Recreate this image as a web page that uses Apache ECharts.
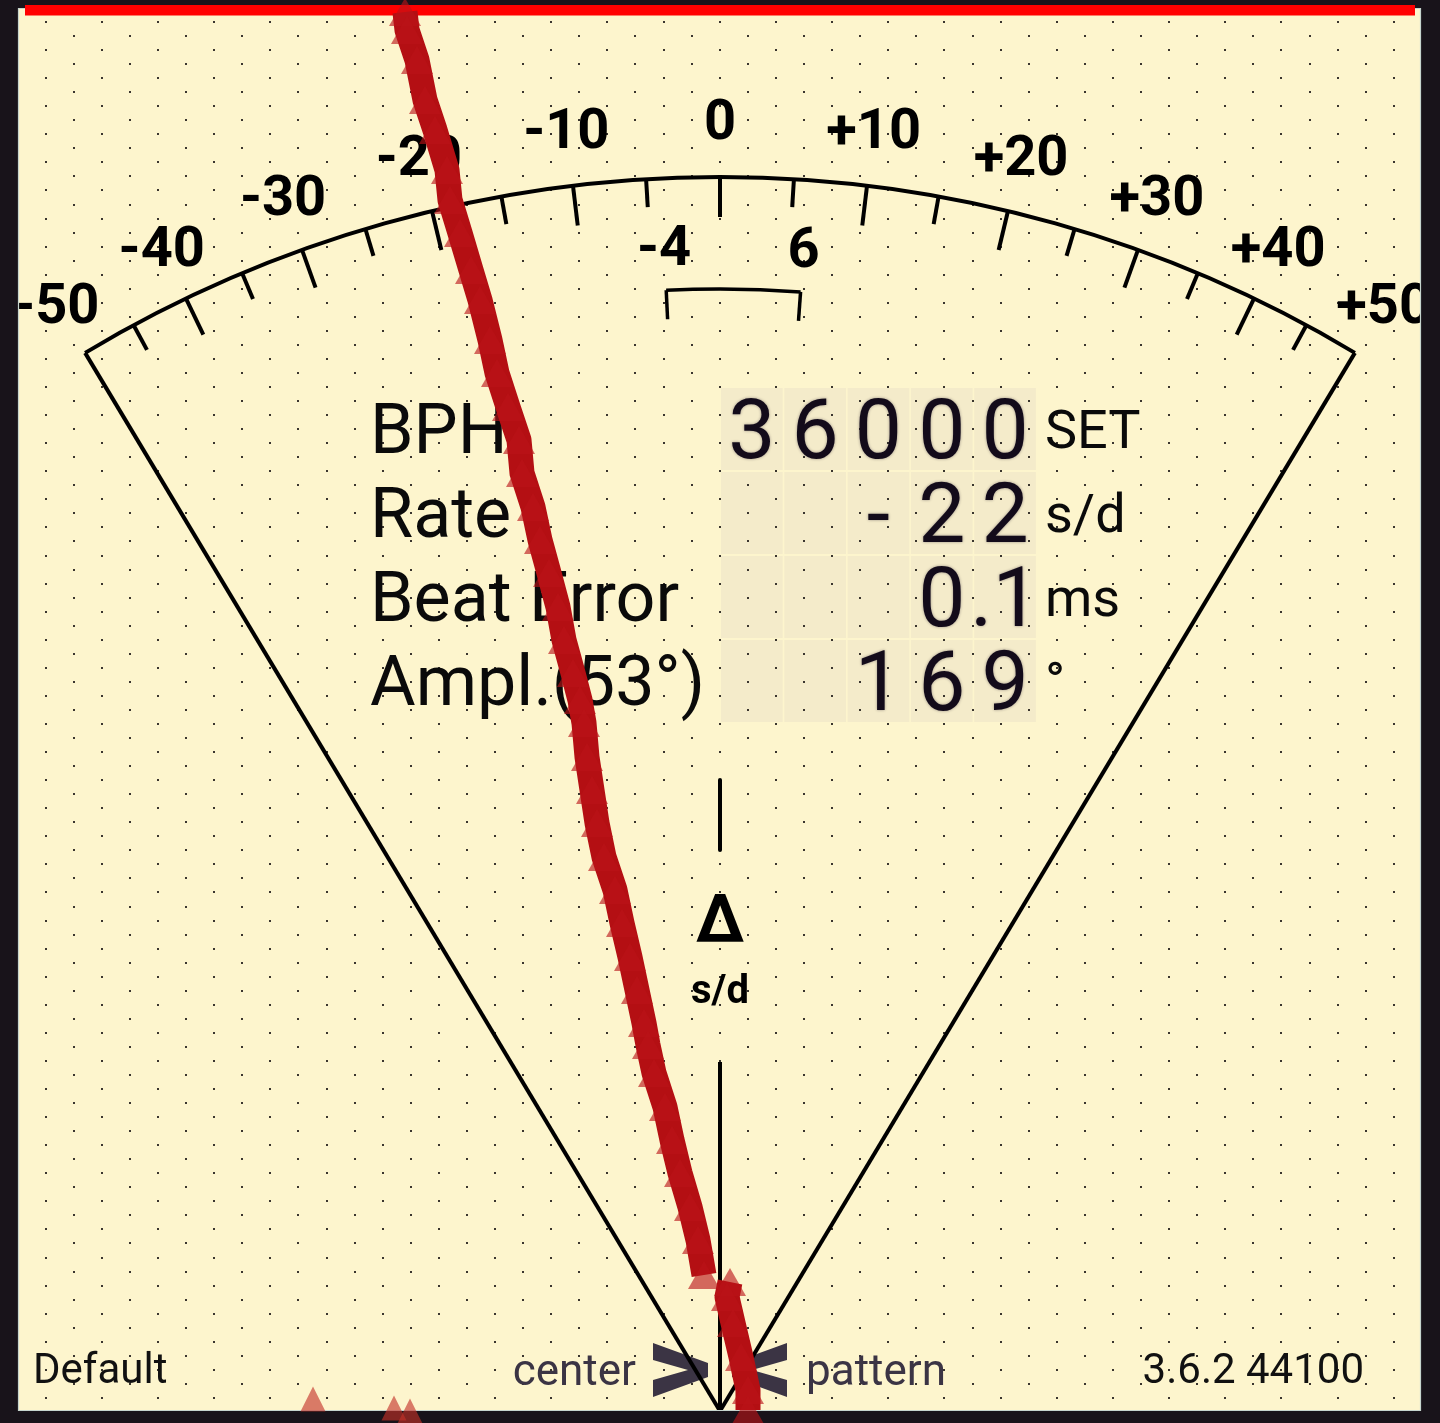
<!DOCTYPE html>
<html><head><meta charset="utf-8">
<script src="https://cdn.jsdelivr.net/npm/echarts@6/dist/echarts.min.js"></script>
<style>html,body{margin:0;padding:0;background:#18131a;overflow:hidden}#c{width:1440px;height:1423px}</style>
</head><body><div id="c"></div>
<script>
// ---------------- data ----------------
const scaleTicks = [-45,-40,-35,-30,-25,-20,-15,-10,-5,0,5,10,15,20,25,30,35,40,45];
const scaleRange = [-50, 50];
const labelValues = [-50,-40,-30,-20,-10,0,10,20,30,40,50];
const tickLabels = ['-50','-40','-30','-20','-10','0','+10','+20','+30','+40','+50'];
const toleranceRange = [-4, 6];
const toleranceLabels = ['-4','6'];
const tableLabels = ['BPH','Rate','Beat Error','Ampl.(53°)'];
const tableValues = ['36000','-22','0.1','169'];
const tableUnits = ['SET','s/d','ms','°'];
const footerLeft = 'Default';
const footerCenterL = 'center';
const footerCenterR = 'pattern';
const footerRight = '3.6.2 44100';
const centerTitle = 'Δ';
const centerUnit = 's/d';
// trail: [offset, time] in chart units
const trailA = [[-31.5,1.2],[-31.3,3.0],[-30.3,6.0],[-29.5,10.0],[-28.5,13.0],[-27.3,17.0],[-27.0,20.0],
 [-26.0,23.3],[-24.9,27.0],[-24.0,30.0],[-23.0,34.0],[-22.3,37.3],[-21.2,40.7],[-20.1,44.0],[-19.8,47.3],
 [-18.7,50.7],[-18.0,54.0],[-17.1,57.3],[-16.2,60.7],[-15.6,64.0],[-14.7,67.3],[-14.0,70.0],[-13.6,72.3],
 [-13.3,75.7],[-12.8,79.0],[-12.3,82.3],[-11.6,85.7],[-10.5,89.0],[-9.8,92.3],[-9.0,95.7],[-8.3,99.0],
 [-7.6,102.3],[-7.2,104.5],[-6.6,107.3],[-5.5,110.7],[-4.8,114.0],[-4.0,117.3],[-3.0,120.7],[-2.2,124.0],[-1.6,127.5]];
const trailB = [[1.0,128.2],[0.7,129.7],[1.3,132.3],[2.1,135.7],[2.8,139.0],[2.8,141.0]];
const strayBeats = [[-40.7,139.9],[-32.6,140.8],[-31.0,141.1]];

// ---------------- layout / style ----------------
const W = 1440, H = 1423;
const PIVOT = [0, 141.1];
const R_ARC = 1234, R_LABEL = 1290, R_BR = 1122, R_TOL = 1165;
const SLOPE = 0.012;
const ang = v => Math.atan(v * SLOPE);
const pol = (c, r, v) => { const t = ang(v); return [c[0] + r * Math.sin(t), c[1] - r * Math.cos(t)]; };

const chart = echarts.init(document.getElementById('c'), null, {renderer: 'canvas', width: W, height: H});

// dot grid
const dots = document.createElement('canvas');
dots.width = W; dots.height = H;
const g = dots.getContext('2d');
g.fillStyle = '#3a352e';
for (let j = -1; j < 110; j++) {
  const y = 22 + j * 14.04;
  if (y < 9 || y > 1410) continue;
  const off = 45.7 + ((j % 2 + 2) % 2 ? 28.085 : 0);
  for (let kx = -1; kx < 30; kx++) {
    const x = off + kx * 56.17;
    if (x < 19 || x > 1420) continue;
    g.fillRect(Math.round(x) - 1, Math.round(y) - 1, 2, 2);
  }
}

const gfx = [];
gfx.push({type: 'rect', shape: {x: 18, y: 8, width: 1403, height: 1403}, style: {fill: '#fdf5cd'}, z: 0});

// table cells
const cellX0 = 721, cellW = 63.3, cellY0 = 388, cellH = 84;
for (let r = 0; r < 4; r++) for (let c = 0; c < 5; c++) {
  gfx.push({type: 'rect', shape: {x: cellX0 + c * cellW, y: cellY0 + r * cellH, width: cellW - 1.6, height: cellH - 2},
    style: {fill: '#f4ebca'}, z: 1});
}
gfx.push({type: 'image', style: {image: dots, x: 0, y: 0, width: W, height: H}, z: 2});

function glyphCells(s) {
  const out = [];
  for (let i = 0; i < s.length; i++) {
    if (s[i] === '.' && i + 1 < s.length) { out.push('.' + s[i + 1]); i++; } else out.push(s[i]);
  }
  return out;
}
const T = (x, y, text, font, fill, align, z, extra) => Object.assign({type: 'text', x, y, z: z || 5,
  style: Object.assign({text, font, fill, align: align || 'left', textAlign: align || 'left', verticalAlign: 'middle', textVerticalAlign: 'middle'}, extra || {})});

tableLabels.forEach((lab, r) => {
  const cy = cellY0 + r * cellH + cellH / 2 + 0.5;
  gfx.push(T(370, cy + 4.5, lab, '70px Roboto', '#0a0a0a'));
  const cells = glyphCells(tableValues[r]);
  cells.forEach((ch, i) => {
    const col = 5 - cells.length + i;
    gfx.push(T(cellX0 + col * cellW + cellW / 2 - 0.8, cy + 6, ch, '84px Roboto', '#130b1a', 'center', 5,
      {textShadowColor: 'rgba(20,10,30,0.4)', textShadowBlur: 3}));
  });
  gfx.push(T(1045, cy + 3.5, tableUnits[r], '54px Roboto', '#0a0a0a'));
});

// footer
gfx.push(T(33, 1372, footerLeft, '42px Roboto', '#111111'));
gfx.push(T(636, 1374, footerCenterL, '44px Roboto', '#3b3444', 'right'));
gfx.push(T(806, 1374, footerCenterR, '44px Roboto', '#3b3444', 'left'));
gfx.push(T(1364, 1372, footerRight, '42px Roboto', '#111111', 'right'));
gfx.push({type: 'polygon', z: 5, shape: {points: [[653,1343],[708,1363],[708,1377],[653,1397],[653,1380],[688,1370],[653,1360]]}, style: {fill: '#3b3444'}});
gfx.push({type: 'polygon', z: 5, shape: {points: [[787,1343],[732,1363],[732,1377],[787,1397],[787,1380],[752,1370],[787,1360]]}, style: {fill: '#3b3444'}});

// frame overlay
const FR = '#18131a';
gfx.push({type: 'rect', shape: {x: 0, y: 0, width: 18, height: H}, style: {fill: FR}, z: 10});
gfx.push({type: 'rect', shape: {x: 1421, y: 0, width: W - 1421, height: H}, style: {fill: FR}, z: 10});
gfx.push({type: 'rect', shape: {x: 0, y: 0, width: W, height: 8}, style: {fill: FR}, z: 10});
gfx.push({type: 'rect', shape: {x: 0, y: 1411, width: W, height: H - 1411}, style: {fill: FR}, z: 10});
gfx.push({type: 'rect', shape: {x: 18.5, y: 8.5, width: 1402, height: 1402}, style: {fill: null, stroke: '#c6d5ce', lineWidth: 1.2}, z: 10});
gfx.push({type: 'rect', shape: {x: 25, y: 5, width: 1390, height: 10.5}, style: {fill: '#ff0000'}, z: 11});

const custom = (name, data, z, fn) => ({type: 'custom', name, coordinateSystem: 'cartesian2d', z, silent: true,
  clip: false, data, renderItem: (params, api) => fn(api, api.coord(PIVOT))});
const ctext = (x, y, t, font) => ({type: 'text', x, y, style: {text: t, font, fill: '#000',
  align: 'center', textAlign: 'center', verticalAlign: 'middle', textVerticalAlign: 'middle'}});

chart.setOption({
  animation: false,
  backgroundColor: FR,
  grid: {left: 0, right: 0, top: 0, bottom: 0},
  xAxis: {type: 'value', min: -72, max: 72, show: false},
  yAxis: {type: 'value', min: 0, max: 142.3, inverse: true, show: false},
  graphic: {elements: gfx},
  series: [
    custom('arc', [[scaleRange[0], scaleRange[1]]], 6, (api, c) => {
      const a0 = ang(api.value(0)), a1 = ang(api.value(1));
      const p0 = pol(c, R_ARC, api.value(0)), p1 = pol(c, R_ARC, api.value(1));
      return {type: 'group', children: [
        {type: 'arc', shape: {cx: c[0], cy: c[1], r: R_ARC, startAngle: -Math.PI / 2 + a0, endAngle: -Math.PI / 2 + a1, clockwise: true},
          style: {stroke: '#000', fill: null, lineWidth: 4}},
        {type: 'line', shape: {x1: c[0], y1: c[1], x2: p0[0], y2: p0[1]}, style: {stroke: '#000', lineWidth: 4}},
        {type: 'line', shape: {x1: c[0], y1: c[1], x2: p1[0], y2: p1[1]}, style: {stroke: '#000', lineWidth: 4}}
      ]};
    }),
    custom('ticks', scaleTicks.map(v => [v, 0]), 6, (api, c) => {
      const v = api.value(0);
      const major = v % 10 === 0;
      const p1 = pol(c, R_ARC, v), p2 = pol(c, R_ARC - (major ? 40 : 28), v);
      return {type: 'line', shape: {x1: p1[0], y1: p1[1], x2: p2[0], y2: p2[1]}, style: {stroke: '#000', lineWidth: 4}};
    }),
    custom('labels', labelValues.map((v, i) => [v, i]), 6, (api, c) => {
      const v = api.value(0), i = api.value(1);
      const p = pol(c, R_LABEL, v);
      return ctext(p[0], p[1] + 4, tickLabels[i], 'bold 56px Roboto');
    }),
    custom('tolerance', [[toleranceRange[0], toleranceRange[1]]], 6, (api, c) => {
      const v0 = api.value(0), v1 = api.value(1);
      const a = pol(c, R_BR, v0), b = pol(c, R_BR, v1), a2 = pol(c, R_BR - 29, v0), b2 = pol(c, R_BR - 29, v1);
      const la = pol(c, R_TOL, v0), lb = pol(c, R_TOL, v1);
      return {type: 'group', children: [
        {type: 'arc', shape: {cx: c[0], cy: c[1], r: R_BR, startAngle: -Math.PI / 2 + ang(v0), endAngle: -Math.PI / 2 + ang(v1), clockwise: true},
          style: {stroke: '#000', fill: null, lineWidth: 3.5}},
        {type: 'line', shape: {x1: a[0], y1: a[1], x2: a2[0], y2: a2[1]}, style: {stroke: '#000', lineWidth: 3.5}},
        {type: 'line', shape: {x1: b[0], y1: b[1], x2: b2[0], y2: b2[1]}, style: {stroke: '#000', lineWidth: 3.5}},
        ctext(la[0], la[1] + 4, toleranceLabels[0], 'bold 56px Roboto'),
        ctext(lb[0], lb[1] + 4, toleranceLabels[1], 'bold 56px Roboto')
      ]};
    }),
    custom('center', [[0, 0]], 6, (api, c) => {
      const v = api.value(0);
      const p = r => pol(c, r, v);
      const q0 = p(0), q1 = p(349), d0 = p(561), d1 = p(631), tD = p(491), tS = p(421);
      return {type: 'group', children: [
        {type: 'line', shape: {x1: q0[0], y1: q0[1], x2: q1[0], y2: q1[1]}, style: {stroke: '#000', lineWidth: 4}},
        {type: 'line', shape: {x1: d0[0], y1: d0[1], x2: d1[0], y2: d1[1]}, style: {stroke: '#000', lineWidth: 4, lineCap: 'round'}},
        ctext(tD[0], tD[1] + 5, centerTitle, 'bold 66px Roboto'),
        ctext(tS[0], tS[1] + 3, centerUnit, 'bold 40px Roboto')
      ]};
    }),
    {type: 'line', data: trailA, z: 20, symbol: 'none', silent: true, lineStyle: {color: '#b40f13', width: 25, cap: 'butt', join: 'round'}},
    {type: 'line', data: trailB, z: 20, symbol: 'none', silent: true, lineStyle: {color: '#b40f13', width: 25, cap: 'butt', join: 'round'}},
    {type: 'scatter', data: trailA.concat(trailB), z: 21, silent: true, symbol: 'triangle', symbolSize: [32, 28],
      itemStyle: {color: 'rgba(186,20,24,0.78)'}},
    {type: 'scatter', data: strayBeats, z: 21, silent: true, symbol: 'triangle', symbolSize: 25,
      itemStyle: {color: 'rgba(196,48,40,0.78)'}}
  ]
});
</script></body></html>
